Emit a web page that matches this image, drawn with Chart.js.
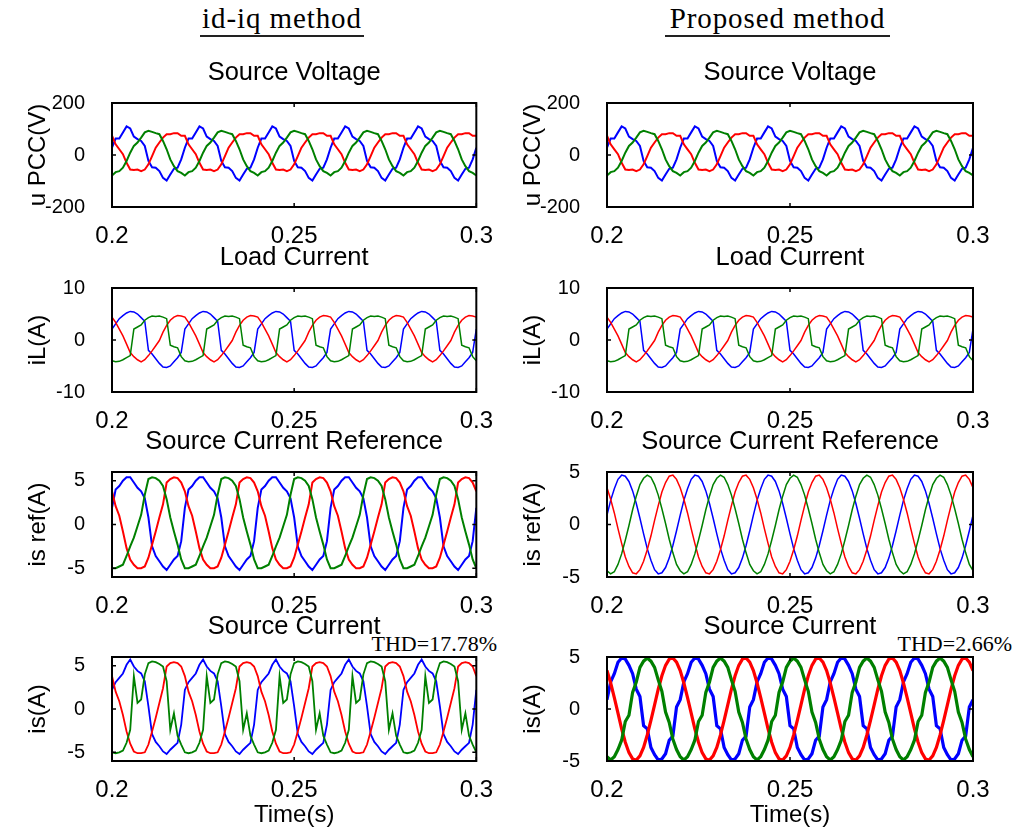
<!DOCTYPE html>
<html>
<head>
<meta charset="utf-8">
<script src="https://cdn.jsdelivr.net/npm/chart.js@4.4.0/dist/chart.umd.min.js"></script>
<style>
body { margin: 0; background: #fff; width: 1015px; height: 837px; position: relative; overflow: hidden; }
canvas { position: absolute; }
.head { position: absolute; top: 3px; font-family: "Liberation Serif", "Times New Roman", serif; font-size: 29px; line-height: 30px;
        letter-spacing: 0.9px; text-align: center; color: #000; padding-bottom: 2px; border-bottom: 2px solid #222; }
.thd { position: absolute; top: 632px; font-family: "Liberation Serif", "Times New Roman", serif; font-size: 22px; line-height: 24px; color: #000; }
</style>
</head>
<body>
<div class="head" style="left:200px;width:164px">id-iq method</div>
<div class="head" style="left:665px;width:225px">Proposed method</div>
<div class="thd" style="right:518px">THD=17.78%</div>
<div class="thd" style="right:3px">THD=2.66%</div>

<script>
// time axis
const timeTicks = [0.2, 0.25, 0.3];
const startTime = 0.2;
const sampleStep = 0.001;   // one sample per ms, 20 per 50 Hz cycle
const cycles = 5;

// one cycle of each phase (t = 0.200 ... 0.219)
const voltBlue  = [28, 63, 63, 87, 110, 102, 71, 61, 54, 35, -23, -47, -49, -62, -88, -98, -75, -53, -49, -17];
const voltGreen = [-79, -66, -62, -49, -23, 9, 35, 48, 67, 87, 93, 89, 84, 80, 54, 22, -17, -43, -62, -69];
const voltRed   = [74, 41, 22, 3, -30, -56, -58, -56, -62, -56, -36, -4, 28, 48, 67, 80, 80, 84, 84, 74];

const loadBlue  = [2.1, 3.1, 4.1, 4.7, 5.2, 5.5, 5.4, 5.0, 4.3, 3.6, -2.0, -2.7, -3.6, -4.5, -5.2, -5.3, -5.0, -4.2, -3.4, -2.4];
const loadGreen = [-4.0, -4.2, -4.1, -3.8, -3.4, -3.0, 2.1, 2.5, 2.9, 3.8, 4.3, 4.6, 4.5, 4.6, 4.4, 4.1, -1.0, -1.3, -1.5, -3.2];
const loadRed   = [4.4, 3.4, 2.1, 0.8, -0.8, -2.4, -3.2, -3.8, -4.2, -3.8, -3.0, -2.1, -1.1, -0.1, 1.5, 2.8, 3.8, 4.4, 4.7, 4.6];

const refBlueA  = [1.9, 4.0, 4.4, 5.0, 5.4, 5.4, 4.8, 4.2, 3.8, 3.0, 0.8, -2.5, -3.6, -4.2, -4.8, -5.2, -4.6, -4.0, -3.6, -1.9];
const refGreenA = [-5.0, -5.0, -4.8, -4.6, -3.6, -2.5, -1.5, -0.2, 1.1, 3.4, 5.2, 5.4, 5.3, 5.0, 4.4, 2.9, 0.8, -0.8, -2.3, -4.0];
const refRedA   = [3.8, 2.1, 1.0, -0.8, -2.7, -4.0, -4.6, -5.0, -5.0, -4.8, -3.8, -2.3, -0.8, 0.8, 2.3, 4.8, 5.2, 5.4, 5.3, 4.8];

const srcBlueA  = [2.2, 3.1, 3.6, 4.1, 5.1, 5.7, 4.9, 4.4, 4.1, 3.2, 0.3, -2.9, -3.8, -4.3, -4.9, -5.2, -4.7, -4.3, -3.9, -1.8];
const srcGreenA = [-5.0, -5.1, -5.0, -4.8, -3.9, -2.4, 3.8, 0.7, 1.1, 4.0, 5.3, 5.5, 5.4, 5.2, 4.9, 3.2, -2.4, -0.5, -3.1, -4.1];
const srcRedA   = [3.8, 2.0, 0.9, -0.7, -2.6, -4.0, -4.9, -5.1, -5.1, -5.0, -4.1, -2.6, -1.0, 0.7, 2.4, 4.9, 5.3, 5.4, 5.3, 4.9];

const refBlueB  = [0.9, 2.3, 3.4, 4.3, 4.7, 4.6, 4.1, 3.2, 2.0, 0.6, -0.9, -2.3, -3.4, -4.3, -4.7, -4.6, -4.1, -3.2, -2.0, -0.6];
const refGreenB = [-4.4, -4.7, -4.5, -3.8, -2.8, -1.5, -0.1, 1.4, 2.7, 3.8, 4.4, 4.7, 4.5, 3.8, 2.8, 1.5, 0.1, -1.4, -2.7, -3.8];
const refRedB   = [3.5, 2.4, 1.1, -0.4, -1.8, -3.1, -4.0, -4.6, -4.7, -4.3, -3.5, -2.4, -1.1, 0.4, 1.8, 3.1, 4.0, 4.6, 4.7, 4.3];

const srcBlueB  = [0.9, 2.6, 3.4, 4.5, 4.9, 4.8, 4.2, 3.4, 1.9, 1.2, -1.6, -1.9, -3.7, -4.4, -4.9, -4.8, -4.3, -3.0, -2.6, 0.2];
const srcGreenB = [-4.6, -4.9, -4.6, -3.9, -3.0, -1.2, -0.6, 1.6, 2.6, 4.0, 4.6, 4.9, 4.6, 4.0, 2.8, 1.7, -0.3, -1.3, -2.9, -3.9];
const srcRedB   = [3.7, 2.5, 1.1, -0.4, -1.9, -3.2, -4.2, -4.8, -4.9, -4.5, -3.7, -2.5, -1.1, 0.4, 1.9, 3.2, 4.2, 4.8, 4.9, 4.5];

const voltTicks = [-200, 0, 200];
const loadTicks = [-10, 0, 10];
const ampTicks = [-5, 0, 5];

const BLUE = '#0000ff', GREEN = '#008000', RED = '#ff0000';
const FONT = '"Liberation Sans", Arial, sans-serif';

const rowTop = [103, 288, 472, 657];
const rowBottom = [207, 392, 577, 761];

function series(cycle, color, width) {
  const pts = [];
  for (let k = 0; k <= cycles * cycle.length; k++) {
    pts.push({ x: startTime + k * sampleStep, y: cycle[k % cycle.length] });
  }
  return { data: pts, borderColor: color, borderWidth: width, pointRadius: 0, tension: 0, fill: false };
}

// black box with inward tick marks, like the original figure
const framePlugin = {
  id: 'frame',
  afterDatasetsDraw(chart) {
    const { ctx, chartArea: a, scales: { x, y } } = chart;
    ctx.save();
    ctx.strokeStyle = '#000';
    ctx.lineWidth = 1.5;
    ctx.beginPath();
    x.ticks.forEach(t => {
      const px = x.getPixelForValue(t.value);
      ctx.moveTo(px, a.top); ctx.lineTo(px, a.top + 4);
      ctx.moveTo(px, a.bottom); ctx.lineTo(px, a.bottom - 4);
    });
    y.ticks.forEach(t => {
      const py = y.getPixelForValue(t.value);
      ctx.moveTo(a.left, py); ctx.lineTo(a.left + 4, py);
      ctx.moveTo(a.right, py); ctx.lineTo(a.right - 4, py);
    });
    ctx.stroke();
    ctx.lineWidth = 2;
    ctx.strokeRect(a.left, a.top, a.right - a.left, a.bottom - a.top);
    ctx.restore();
  }
};

function makePlot(p) {
  const last = p.row === 3;
  const xh = last ? 75 : 40;
  const left = p.col ? 495 : 0;
  const w = p.col ? 520 : 500;
  const plotRight = p.col ? 973 : 478;
  const h = 50 + (rowBottom[p.row] - rowTop[p.row]) + xh;
  const cv = document.createElement('canvas');
  cv.width = w; cv.height = h;
  cv.style.left = left + 'px';
  cv.style.top = (rowTop[p.row] - 50) + 'px';
  document.body.appendChild(cv);

  new Chart(cv, {
    type: 'line',
    data: { datasets: p.sets },
    options: {
      responsive: false, animation: false, devicePixelRatio: 1,
      layout: { autoPadding: false, padding: { top: 5.6, left: 0, right: left + w - plotRight, bottom: 0 } },
      plugins: {
        legend: { display: false }, tooltip: { enabled: false },
        title: { display: true, text: p.title, fullSize: false, color: '#000',
                 font: { family: FONT, size: 25.5, weight: 'normal', lineHeight: 28.8 / 25.5 },
                 padding: { top: 0, bottom: 15.6 } }
      },
      scales: {
        x: {
          type: 'linear', min: 0.2, max: 0.3,
          afterBuildTicks: s => { s.ticks = timeTicks.map(v => ({ value: v })); },
          afterFit: s => { s.height = xh; },
          grid: { display: false }, border: { display: false },
          ticks: { color: '#000', padding: 7, maxRotation: 0, font: { family: FONT, size: 24 },
                   callback: v => String(v) },
          title: { display: last, text: 'Time(s)', color: '#000', font: { family: FONT, size: 24 }, padding: { bottom: 6.6 } }
        },
        y: {
          min: p.ymin, max: p.ymax,
          afterBuildTicks: s => { s.ticks = p.yticks.map(v => ({ value: v })); },
          afterFit: s => { s.width = 112; },
          grid: { display: false }, border: { display: false },
          ticks: { color: '#000', padding: 19, font: { family: FONT, size: 20 } },
          title: { display: true, text: p.ylabel, color: '#000', font: { family: FONT, size: 24 }, padding: { top: 24 } }
        }
      }
    },
    plugins: [framePlugin]
  });
}

const plots = [
  { col: 0, row: 0, title: 'Source Voltage', ylabel: 'u PCC(V)', ymin: -200, ymax: 200, yticks: voltTicks,
    sets: [series(voltGreen, GREEN, 2), series(voltRed, RED, 2), series(voltBlue, BLUE, 2)] },
  { col: 1, row: 0, title: 'Source Voltage', ylabel: 'u PCC(V)', ymin: -200, ymax: 200, yticks: voltTicks,
    sets: [series(voltGreen, GREEN, 2), series(voltRed, RED, 2), series(voltBlue, BLUE, 2)] },
  { col: 0, row: 1, title: 'Load Current', ylabel: 'iL(A)', ymin: -10, ymax: 10, yticks: loadTicks,
    sets: [series(loadGreen, GREEN, 1.5), series(loadRed, RED, 1.5), series(loadBlue, BLUE, 1.5)] },
  { col: 1, row: 1, title: 'Load Current', ylabel: 'iL(A)', ymin: -10, ymax: 10, yticks: loadTicks,
    sets: [series(loadGreen, GREEN, 1.5), series(loadRed, RED, 1.5), series(loadBlue, BLUE, 1.5)] },
  { col: 0, row: 2, title: 'Source Current Reference', ylabel: 'is ref(A)', ymin: -6, ymax: 6, yticks: ampTicks,
    sets: [series(refGreenA, GREEN, 2), series(refRedA, RED, 2), series(refBlueA, BLUE, 2)] },
  { col: 1, row: 2, title: 'Source Current Reference', ylabel: 'is ref(A)', ymin: -5, ymax: 5, yticks: ampTicks,
    sets: [series(refGreenB, GREEN, 1.5), series(refRedB, RED, 1.5), series(refBlueB, BLUE, 1.5)] },
  { col: 0, row: 3, title: 'Source Current', ylabel: 'is(A)', ymin: -6, ymax: 6, yticks: ampTicks,
    sets: [series(srcGreenA, GREEN, 1.8), series(srcRedA, RED, 1.8), series(srcBlueA, BLUE, 1.8)] },
  { col: 1, row: 3, title: 'Source Current', ylabel: 'is(A)', ymin: -5, ymax: 5, yticks: ampTicks,
    sets: [series(srcGreenB, GREEN, 3.2), series(srcRedB, RED, 3.2), series(srcBlueB, BLUE, 3.2)] }
];

plots.forEach(makePlot);
</script>
</body>
</html>
